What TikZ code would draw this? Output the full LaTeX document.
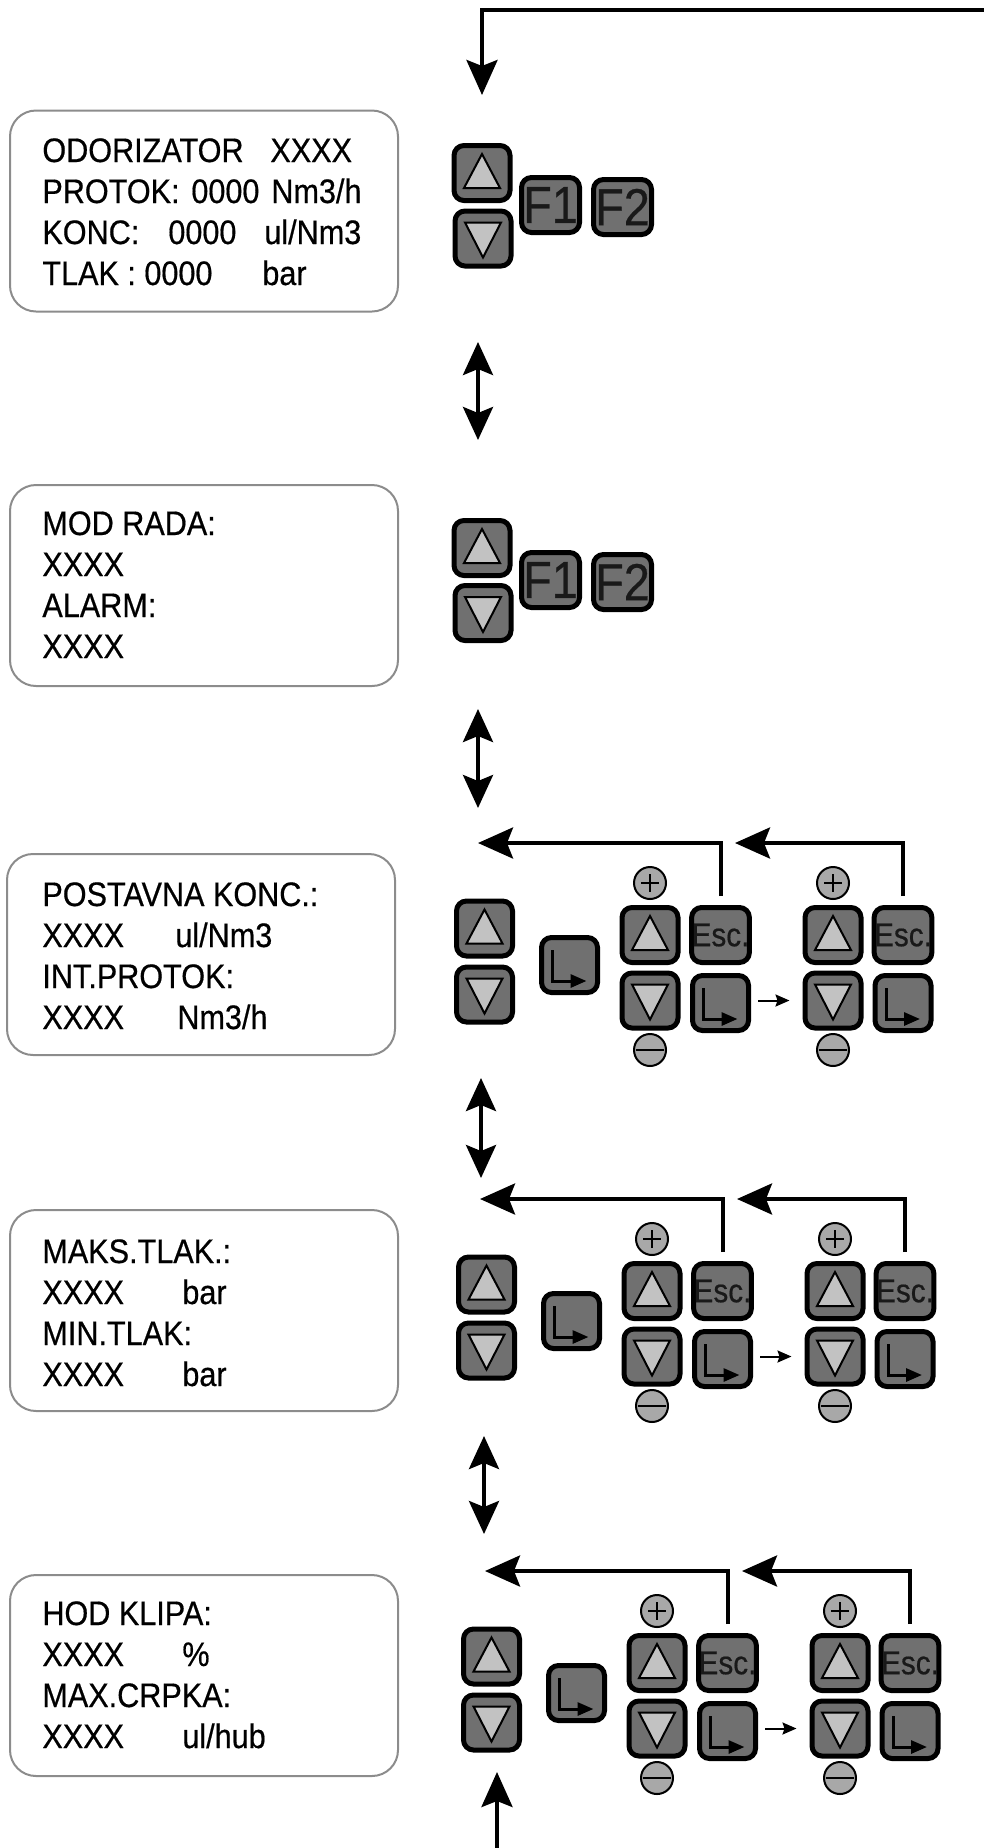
\documentclass[tikz,border=0pt]{standalone}
\usepackage{fontspec}
\setmainfont{Liberation Sans}[FakeStretch=0.9, FakeBold=0.5]
\usepackage{tikz}
\usetikzlibrary{arrows.meta, calc}
\definecolor{key-grey}{RGB}{112,112,112}
\definecolor{tri-grey}{RGB}{194,194,194}
\definecolor{dot-grey}{RGB}{168,168,168}
\definecolor{lcd-frame}{RGB}{140,140,140}

\tikzset{
  lcd/.style={draw=lcd-frame, line width=1pt, rounded corners=13pt, minimum width=194pt, minimum height=100.5pt, inner sep=0pt},
  lcdline/.style={anchor=base west, inner sep=0pt, font=\fontsize{17}{20}\selectfont},
  key/.style={draw=black, fill=key-grey, line width=2.5pt, rounded corners=5pt, minimum width=28pt, minimum height=27.5pt, inner sep=0pt, text=black!90},
  upkey/.style={key, path picture={\draw[fill=tri-grey, line width=1pt, sharp corners] (path picture bounding box.center) ++(0,-19) -- ++(18,34) -- ++(-36,0) -- cycle;}},
  downkey/.style={key, path picture={\draw[fill=tri-grey, line width=1pt, sharp corners] (path picture bounding box.center) ++(0,19) -- ++(18,-35) -- ++(-36,0) -- cycle;}},
  okkey/.style={key, path picture={\draw[line width=1.5pt, sharp corners, -{Triangle[length=8pt, width=6.5pt]}] (path picture bounding box.center) ++(-17,-15) -- ++(0,31) -- ++(34,0);}},
  esckey/.style={key, font=\fontsize{16.5}{16.5}\selectfont},
  fkey/.style={key, minimum width=29pt, font=\fontsize{26}{26}\selectfont},
  dot/.style={circle, draw=black, fill=dot-grey, line width=1pt, minimum size=16pt, inner sep=0pt},
  plus/.style={dot, path picture={\draw[line width=1pt] (path picture bounding box.center) ++(-9,0) -- ++(18,0) (path picture bounding box.center) ++(0,-9) -- ++(0,18);}},
  minus/.style={dot, path picture={\draw[line width=1.2pt] (path picture bounding box.center) ++(-14,0) -- ++(28,0);}},
  flow/.style={line width=2pt, -{Stealth[length=17.5pt, width=15.5pt, inset=3pt]}},
  both/.style={line width=2pt, {Stealth[length=16.5pt, width=15pt, inset=3pt]}-{Stealth[length=16.5pt, width=15pt, inset=3pt]}},
  nudge/.style={line width=1pt, -{Stealth[length=7pt, width=6pt, inset=1pt]}}
}

\begin{document}
\begin{tikzpicture}[x=0.5pt, y=-0.5pt]
\useasboundingbox (0,0) rectangle (984,1848);

% displays
\node[lcd] (lcd1) at (204,211) {};
\node[lcdline] (lcd1-1) at (42,162) {\makebox[114pt][l]{ODORIZATOR}XXXX};
\node[lcdline] (lcd1-2) at (42,203) {\makebox[74.5pt][l]{PROTOK:}\makebox[40pt][l]{0000}Nm3/h};
\node[lcdline] (lcd1-3) at (42,244) {\makebox[63pt][l]{KONC:}\makebox[48pt][l]{0000}ul/Nm3};
\node[lcdline] (lcd1-4) at (42,285) {\makebox[110pt][l]{TLAK : 0000}bar};

\node[lcd] (lcd2) at (204,585.5) {};
\node[lcdline] (lcd2-1) at (42,535) {MOD RADA:};
\node[lcdline] (lcd2-2) at (42,576) {XXXX};
\node[lcdline] (lcd2-3) at (42,617) {ALARM:};
\node[lcdline] (lcd2-4) at (42,658) {XXXX};

\node[lcd] (lcd3) at (201,954.5) {};
\node[lcdline] (lcd3-1) at (42,906) {POSTAVNA KONC.:};
\node[lcdline] (lcd3-2) at (42,947) {\makebox[66.5pt][l]{XXXX}ul/Nm3};
\node[lcdline] (lcd3-3) at (42,988) {INT.PROTOK:};
\node[lcdline] (lcd3-4) at (42,1029) {\makebox[67.5pt][l]{XXXX}Nm3/h};

\node[lcd] (lcd4) at (204,1310.5) {};
\node[lcdline] (lcd4-1) at (42,1263) {MAKS.TLAK.:};
\node[lcdline] (lcd4-2) at (42,1304) {\makebox[70pt][l]{XXXX}bar};
\node[lcdline] (lcd4-3) at (42,1345) {MIN.TLAK:};
\node[lcdline] (lcd4-4) at (42,1386) {\makebox[70pt][l]{XXXX}bar};

\node[lcd] (lcd5) at (204,1675.5) {};
\node[lcdline] (lcd5-1) at (42,1625) {HOD KLIPA:};
\node[lcdline] (lcd5-2) at (42,1666) {\makebox[70pt][l]{XXXX}\%};
\node[lcdline] (lcd5-3) at (42,1707) {MAX.CRPKA:};
\node[lcdline] (lcd5-4) at (42,1748) {\makebox[70pt][l]{XXXX}ul/hub};

% keys of the first two screens
\node[upkey] (up1) at (482,173) {};
\node[downkey] (dn1) at (483,238.5) {};
\node[fkey] (fa1) at (550.5,205) {F1};
\node[fkey] (fb1) at (622.5,207) {F2};

\node[upkey] (up2) at (482,548) {};
\node[downkey] (dn2) at (483,613) {};
\node[fkey] (fa2) at (550.5,580) {F1};
\node[fkey] (fb2) at (622.5,582) {F2};

% keys of the setting screens
\foreach \s/\dx/\dy in {3/0/0, 4/2/356, 5/7/728} {
  \begin{scope}[shift={(\dx,\dy)}]
    \node[upkey] (up\s) at (484.5,928.5) {};
    \node[downkey] (dn\s) at (484.5,994.5) {};
    \node[okkey] (ok\s) at (569.5,965) {};
    \node[upkey] (upA\s) at (650,935) {};
    \node[esckey] (escA\s) at (720.5,935) {Esc.};
    \node[downkey] (dnA\s) at (650,1000.5) {};
    \node[okkey] (okA\s) at (720.5,1003) {};
    \node[plus] (plA\s) at (650,883) {};
    \node[minus] (miA\s) at (650,1050) {};
    \node[upkey] (upB\s) at (833,935) {};
    \node[esckey] (escB\s) at (903,935) {Esc.};
    \node[downkey] (dnB\s) at (833,1000.5) {};
    \node[okkey] (okB\s) at (903,1003) {};
    \node[plus] (plB\s) at (833,883) {};
    \node[minus] (miB\s) at (833,1050) {};
    \coordinate (backA\s) at (478,843);
    \coordinate (backB\s) at (735,843);
    \draw[flow, shorten <=4.5pt] (escA\s.north) |- (backA\s);
    \draw[flow, shorten <=4.5pt] (escB\s.north) |- (backB\s);
    \draw[nudge, shorten <=3.5pt, shorten >=6.5pt] (okA\s.east |- dnB\s.west) -- (dnB\s.west);
  \end{scope}
}

% moving between screens
\coordinate (entry) at (984,10);
\draw[flow, shorten >=24pt] (entry) -| (up1.north);
\coordinate (swap1-top) at (478,342);
\coordinate (swap1-bot) at (478,440);
\coordinate (swap2-top) at (478,709);
\coordinate (swap2-bot) at (478,808);
\coordinate (swap3-top) at (481,1078);
\coordinate (swap3-bot) at (481,1178);
\coordinate (swap4-top) at (484,1436);
\coordinate (swap4-bot) at (484,1534);
\draw[both] (swap1-top) -- (swap1-bot);
\draw[both] (swap2-top) -- (swap2-bot);
\draw[both] (swap3-top) -- (swap3-bot);
\draw[both] (swap4-top) -- (swap4-bot);
\coordinate (exit) at (497,1848);
\coordinate (exit-tip) at (497,1772);
\draw[flow] (exit) -- (exit-tip);
\end{tikzpicture}
\end{document}
